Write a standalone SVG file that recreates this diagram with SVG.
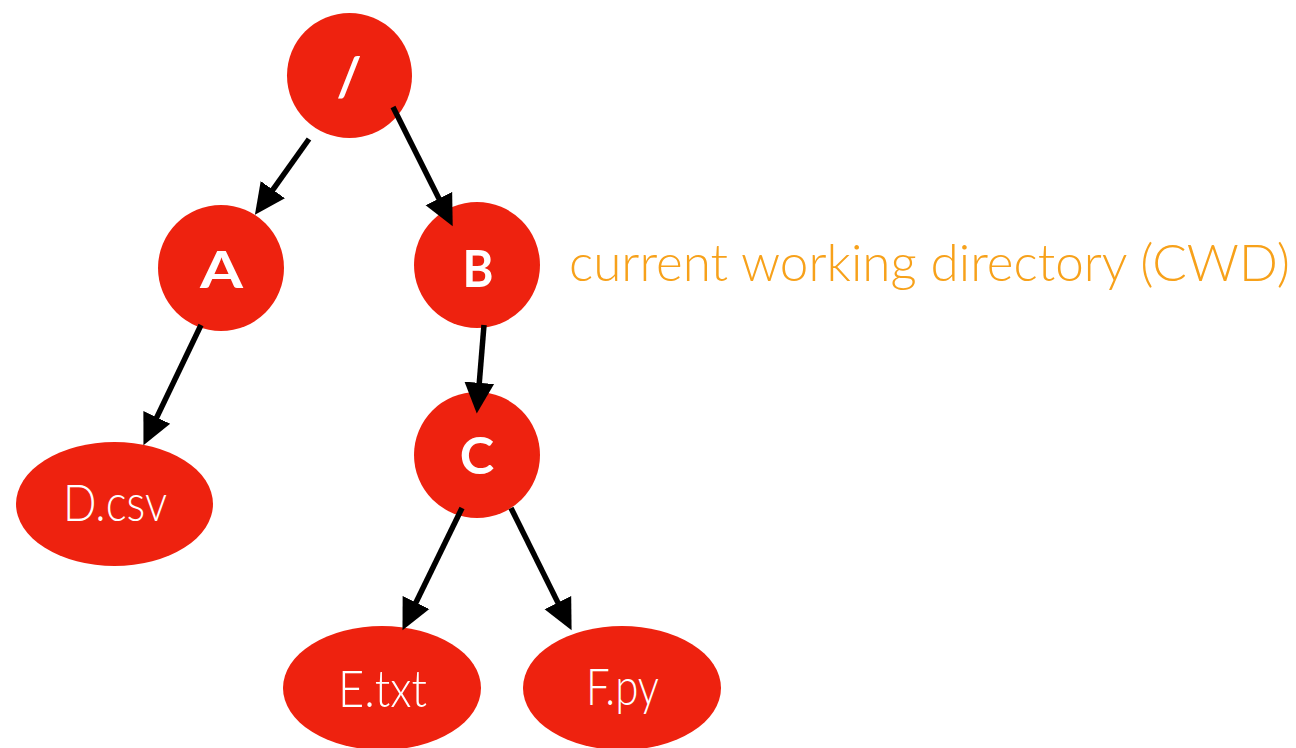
<svg xmlns="http://www.w3.org/2000/svg" width="1296" height="748" viewBox="0 0 1296 748">
<style>
.n{fill:#EE220F}
.b{font-family:Lato,"Open Sans","Liberation Sans",sans-serif;font-weight:700;fill:#fff;text-anchor:middle}
.l{font-family:Lato,"Open Sans","Liberation Sans",sans-serif;font-weight:300;fill:#fff;font-size:51px}
.e{stroke:#000;stroke-width:5.5;fill:none;marker-end:url(#ah)}
</style>
<defs>
<marker id="ah" markerUnits="userSpaceOnUse" markerWidth="32" markerHeight="32" viewBox="0 -14 28 28" refX="2" refY="0" orient="auto">
<path d="M0,-13 L27,0 L0,13 z" fill="#000"/>
</marker>
</defs>
<rect width="1296" height="748" fill="#fff"/>
<g id="root"><circle class="n" cx="349.5" cy="75.5" r="62.5"/><text class="b" x="349" y="96" font-size="54">/</text></g>
<g id="A"><circle class="n" cx="221" cy="268" r="63"/><text class="b" x="221.5" y="288" font-size="52" textLength="43" lengthAdjust="spacingAndGlyphs">A</text></g>
<g id="B"><circle class="n" cx="477" cy="265" r="63"/><text class="b" x="478" y="287" font-size="52" textLength="31" lengthAdjust="spacingAndGlyphs">B</text></g>
<g id="C"><circle class="n" cx="477" cy="455" r="63"/><text class="b" x="477" y="474" font-size="52">C</text></g>
<g id="D"><ellipse class="n" cx="114.5" cy="504" rx="98.5" ry="62"/><text class="l" x="63" y="521" textLength="104" lengthAdjust="spacingAndGlyphs">D.csv</text></g>
<g id="E"><ellipse class="n" cx="382" cy="688" rx="99" ry="62"/><text class="l" x="338" y="707" textLength="89" lengthAdjust="spacingAndGlyphs">E.txt</text></g>
<g id="F"><ellipse class="n" cx="622" cy="688" rx="99" ry="62"/><text class="l" x="586" y="705" textLength="73" lengthAdjust="spacingAndGlyphs">F.py</text></g>
<g id="connectors">
<line class="e" x1="309" y1="139" x2="271.5" y2="191.6"/>
<line class="e" x1="393" y1="107" x2="439.9" y2="200.6"/>
<line class="e" x1="201" y1="325" x2="155.8" y2="419.4"/>
<line class="e" x1="484" y1="325" x2="479.1" y2="385.1"/>
<line class="e" x1="462" y1="508" x2="415" y2="604.5"/>
<line class="e" x1="511" y1="508" x2="558.9" y2="604.6"/>
</g>
<text x="569" y="281" font-family="Lato,'Open Sans','Liberation Sans',sans-serif" font-weight="300" font-size="51" fill="#F7A11A" textLength="721" lengthAdjust="spacingAndGlyphs">current working directory (CWD)</text>
</svg>
